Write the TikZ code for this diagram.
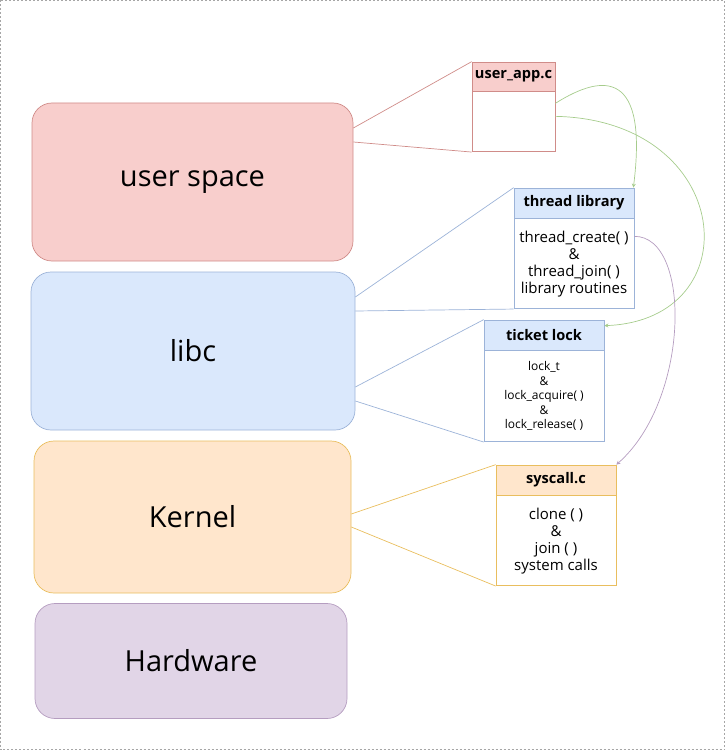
\documentclass[tikz,border=0pt]{standalone}
\usepackage{fontspec}
\setmainfont{Open Sans}
\usetikzlibrary{arrows.meta}

\definecolor{redfill}{HTML}{F8CECC}
\definecolor{redline}{HTML}{D08C89}
\definecolor{bluefill}{HTML}{DAE8FC}
\definecolor{blueline}{HTML}{9CB3D8}
\definecolor{orafill}{HTML}{FFE6CC}
\definecolor{oraline}{HTML}{E9BE5E}
\definecolor{purfill}{HTML}{E1D5E7}
\definecolor{purline}{HTML}{B59DC0}
\definecolor{grnline}{HTML}{A6CC8C}

\tikzset{
  layer/.style={rounded corners=20pt, line width=0.7pt, inner sep=0pt,
    font=\fontsize{29}{35}\selectfont},
  head/.style={line width=0.7pt, minimum width=120pt, minimum height=30pt,
    inner sep=0pt, font=\fontsize{14.6}{17}\selectfont\bfseries},
  body/.style={line width=0.7pt, fill=white, minimum width=120pt, inner sep=0pt,
    align=center, font=\fontsize{15}{17}\selectfont, anchor=north},
  link/.style={line width=0.7pt},
  call/.style={line width=0.7pt, -{Stealth[length=4pt,width=4pt]}}
}

\begin{document}
\begin{tikzpicture}[x=1pt, y=-1pt]
  \useasboundingbox (0,0) rectangle (726,751);
  \draw[gray!70, dash pattern=on 2pt off 2pt] (0.5,0.5) rectangle (724.5,749.5);

  % layers
  \node[layer, fill=redfill, draw=redline, minimum width=321pt, minimum height=158pt]
       (user) at (192.5,182) {user space};
  \node[layer, fill=bluefill, draw=blueline, minimum width=324pt, minimum height=158pt]
       (libc) at (193,351) {libc};
  \node[layer, fill=orafill, draw=oraline, minimum width=317pt, minimum height=152pt]
       (kernel) at (192.5,517) {Kernel};
  \node[layer, fill=purfill, draw=purline, minimum width=312pt, minimum height=115pt]
       (hardware) at (191,661) {Hardware};

  % source files
  \node[head, fill=redfill, draw=redline, minimum width=83pt, minimum height=29pt]
       (apphd) at (513.5,76.5) {user\_app.c};
  \node[body, draw=redline, minimum width=83pt, minimum height=60pt]
       (appbd) at (apphd.south) {};
  \node[head, fill=bluefill, draw=blueline] (thrhd) at (574,203) {thread library};
  \node[body, draw=blueline, minimum height=90pt] (thrbd) at (thrhd.south)
       {thread\_create( )\\\&\\thread\_join( )\\library routines};
  \node[head, fill=bluefill, draw=blueline] (lockhd) at (544,335) {ticket lock};
  \node[body, draw=blueline, minimum height=91pt, font=\fontsize{12}{14.5}\selectfont]
       (lockbd) at (lockhd.south)
       {lock\_t\\\&\\lock\_acquire( )\\\&\\lock\_release( )};
  \node[head, fill=orafill, draw=oraline] (syshd) at (556,480) {syscall.c};
  \node[body, draw=oraline, minimum height=90pt] (sysbd) at (syshd.south)
       {clone ( )\\\&\\join ( )\\system calls};

  % zoom lines
  \draw[link, redline] ([yshift=54pt]user.east) -- (apphd.north west);
  \draw[link, redline] ([yshift=40pt]user.east) -- (appbd.south west);
  \draw[link, blueline] ([yshift=54pt]libc.east) -- (thrhd.north west);
  \draw[link, blueline] ([yshift=40pt]libc.east) -- (thrbd.south west);
  \draw[link, blueline] ([yshift=-36pt]libc.east) -- (lockhd.north west);
  \draw[link, blueline] ([yshift=-50pt]libc.east) -- (lockbd.south west);
  \draw[link, oraline] ([yshift=3pt]kernel.east) -- (syshd.north west);
  \draw[link, oraline] ([yshift=-10pt]kernel.east) -- (sysbd.south west);

  % calls
  \draw[call, grnline] ([yshift=-12pt]appbd.north east)
       .. controls (605,72) and (648,72) .. ([xshift=-1pt]thrhd.north east);
  \draw[call, grnline] ([yshift=-25pt]appbd.north east)
       .. controls (735,120) and (752,320) .. ([yshift=-6pt]lockhd.north east);
  \draw[call, purline] ([yshift=-18pt]thrbd.north east)
       .. controls (692,236) and (690,400) .. (syshd.north east);
\end{tikzpicture}
\end{document}
